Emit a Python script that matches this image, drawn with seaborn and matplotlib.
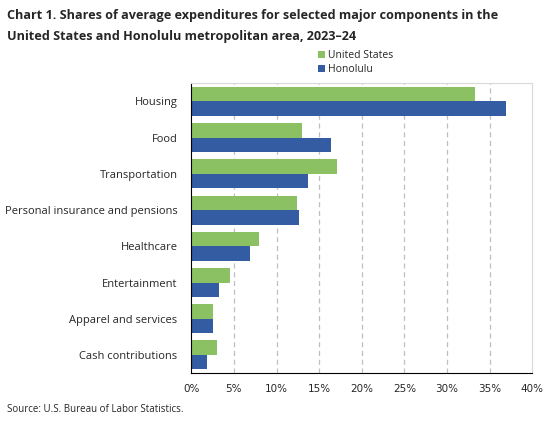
import matplotlib
matplotlib.use("Agg")
import matplotlib.pyplot as plt
import seaborn as sns
import pandas as pd
from matplotlib.ticker import PercentFormatter
from matplotlib.patches import Patch

# data (percent of average expenditures)
categories = ['Housing', 'Food', 'Transportation', 'Personal insurance and pensions',
              'Healthcare', 'Entertainment', 'Apparel and services', 'Cash contributions']
us_share = [33.3, 13.0, 17.1, 12.4, 8.0, 4.6, 2.6, 3.0]
honolulu_share = [36.9, 16.4, 13.7, 12.6, 6.9, 3.2, 2.6, 1.9]
series = ['United States', 'Honolulu']
colors = ['#8bc063', '#335ca3']

df = pd.DataFrame({
    'category': categories * 2,
    'area': [series[0]] * len(categories) + [series[1]] * len(categories),
    'share': us_share + honolulu_share,
})

sns.set_style('white')
plt.rcParams['font.family'] = ['Open Sans', 'DejaVu Sans']

fig = plt.figure(figsize=(5.52, 4.23), dpi=100)
ax = fig.add_axes([0.3465, 0.118, 0.6178, 0.685])

sns.barplot(data=df, y='category', x='share', hue='area', order=categories,
            hue_order=series, palette=colors, width=0.8, orient='h',
            saturation=1, legend=False, linewidth=0, ax=ax)

ax.set_xlim(0, 40)
ax.set_xticks(range(0, 41, 5))
ax.xaxis.set_major_formatter(PercentFormatter(decimals=0))
ax.set_xlabel('')
ax.set_ylabel('')
ax.tick_params(axis='x', length=4, width=1, color='black', labelsize=7.5, pad=4)
ax.tick_params(axis='y', length=0, labelsize=8, pad=10)
for lab in ax.get_xticklabels():
    lab.set_family('DejaVu Sans')

ax.grid(False)
for x in range(5, 40, 5):
    ax.axvline(x, color='#bfbfbf', linestyle=(0, (4, 3)), linewidth=0.9, zorder=0)
ax.set_axisbelow(True)

ax.spines['left'].set_color('black')
ax.spines['bottom'].set_color('black')
ax.spines['top'].set_color('#d9d9d9')
ax.spines['right'].set_color('#d9d9d9')

fig.text(0.012, 0.978, 'Chart 1. Shares of average expenditures for selected major components in the\nUnited States and Honolulu metropolitan area, 2023\u201324',
         fontsize=9.1, fontweight='bold', va='top', ha='left', linespacing=1.75)

handles = [Patch(facecolor=c, edgecolor='none') for c in colors]
fig.legend(handles, series, loc='upper left', bbox_to_anchor=(0.568, 0.892),
           frameon=False, fontsize=7.5, handlelength=0.7, handleheight=0.7,
           handletextpad=0.3, labelspacing=0.35, borderaxespad=0)

fig.text(0.012, 0.018, 'Source: U.S. Bureau of Labor Statistics.', fontsize=7, ha='left', va='bottom')

fig.savefig('out.png', dpi=100)
